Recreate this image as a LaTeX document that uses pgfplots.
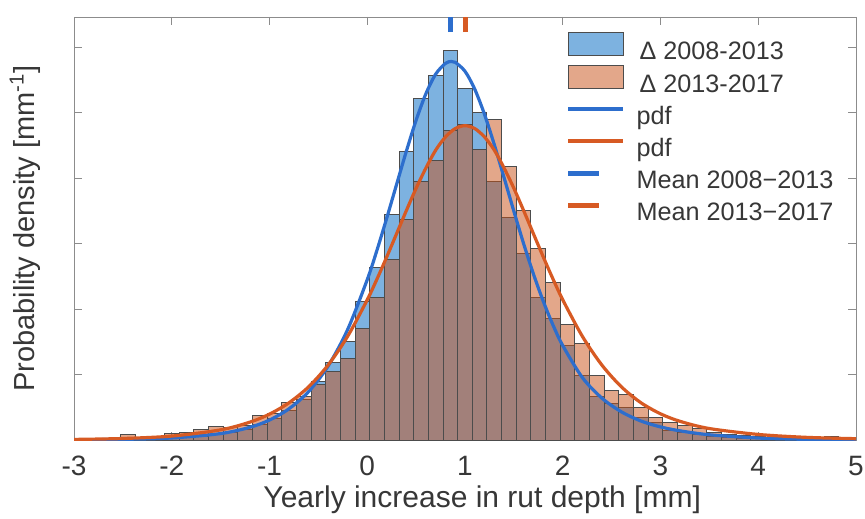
\documentclass[border=0pt]{standalone}
\usepackage{fontspec}
\setmainfont{Liberation Sans}
\usepackage{pgfplots}
\pgfplotsset{compat=1.18}
\definecolor{histblue}{RGB}{125,178,224}
\definecolor{historange}{RGB}{200,80,22}
\definecolor{pdfblue}{RGB}{45,110,205}
\definecolor{pdforange}{RGB}{215,90,35}
\definecolor{txt}{RGB}{55,55,55}
\begin{document}
\begin{tikzpicture}
\useasboundingbox (-37pt,-39pt) rectangle (395.5pt,220pt);
\begin{axis}[
  at={(0pt,0pt)}, anchor=south west,
  scale only axis, width=391pt, height=211.5pt,
  xmin=-3, xmax=5, ymin=0, ymax=0.646,
  xtick={-3,-2,...,5}, ytick={0,0.1,0.2,0.3,0.4,0.5,0.6}, yticklabels={},
  axis line style={black!45}, tick style={black!45, line width=0.5pt}, major tick length=4pt,
  tick align=inside,
  /pgf/number format/assume math mode=true,
  xticklabel style={font=\fontsize{14}{16}\selectfont, text=txt, anchor=base, yshift=-17.5pt},
  xlabel={Yearly increase in rut depth [mm]},
  ylabel={Probability density [mm\textsuperscript{-1}]},
  xlabel style={at={(axis description cs:0.522,-0.142)}, anchor=center, font=\fontsize{15}{18}\selectfont, text=txt},
  ylabel style={at={(axis description cs:-0.0627,0.5)}, anchor=center, font=\fontsize{14.5}{17}\selectfont, text=txt},
  legend style={at={(axis description cs:0.628,0.9645)}, anchor=north west, draw=none, fill=none, inner sep=0pt,
    font=\fontsize{12.6}{15}\selectfont, text=txt, row sep=0pt,
    nodes={inner sep=0pt, text height=9pt, text depth=2.5pt},
    /tikz/every odd column/.append style={column sep=6pt}},
  legend cell align=left,
]
\addplot[ybar interval, fill=histblue, draw=black!70, line width=0.5pt,
  legend image code/.code={\draw[fill=histblue, draw=black!70, line width=0.5pt] (0pt,-1.25pt) rectangle (27.5pt,10.25pt);}]
coordinates {(-2.975,0.000) (-2.825,0.000) (-2.675,0.001) (-2.525,0.001) (-2.375,0.001) (-2.225,0.002) (-2.075,0.003) (-1.925,0.004) (-1.775,0.006) (-1.625,0.008) (-1.475,0.012) (-1.325,0.016) (-1.175,0.024) (-1.025,0.033) (-0.875,0.045) (-0.725,0.062) (-0.575,0.089) (-0.425,0.119) (-0.275,0.150) (-0.125,0.211) (0.025,0.264) (0.175,0.345) (0.325,0.440) (0.475,0.522) (0.625,0.557) (0.775,0.595) (0.925,0.537) (1.075,0.500) (1.225,0.395) (1.375,0.340) (1.525,0.285) (1.675,0.217) (1.825,0.185) (1.975,0.145) (2.125,0.099) (2.275,0.066) (2.425,0.056) (2.575,0.049) (2.725,0.035) (2.875,0.026) (3.025,0.015) (3.175,0.012) (3.325,0.009) (3.475,0.006) (3.625,0.004) (3.775,0.003) (3.925,0.002) (4.075,0.001) (4.225,0.001) (4.375,0.000) (4.525,0.000) (4.675,0.000) (4.825,0.000) (4.975,0)};
\addlegendentry{\hspace{1.5pt}Δ 2008-2013}
\addplot[ybar interval, fill=historange, fill opacity=0.5, draw=black!70, line width=0.5pt,
  legend image code/.code={\draw[fill=historange, fill opacity=0.5, draw=black!70, line width=0.5pt] (0pt,-1.25pt) rectangle (27.5pt,10.25pt);}]
coordinates {(-2.975,0.002) (-2.825,0.002) (-2.675,0.003) (-2.525,0.008) (-2.375,0.004) (-2.225,0.006) (-2.075,0.010) (-1.925,0.012) (-1.775,0.016) (-1.625,0.021) (-1.475,0.019) (-1.325,0.022) (-1.175,0.038) (-1.025,0.040) (-0.875,0.058) (-0.725,0.066) (-0.575,0.084) (-0.425,0.104) (-0.275,0.125) (-0.125,0.171) (0.025,0.218) (0.175,0.275) (0.325,0.336) (0.475,0.394) (0.625,0.427) (0.775,0.473) (0.925,0.482) (1.075,0.443) (1.225,0.490) (1.375,0.418) (1.525,0.351) (1.675,0.293) (1.825,0.240) (1.975,0.176) (2.125,0.148) (2.275,0.099) (2.425,0.076) (2.575,0.069) (2.725,0.050) (2.875,0.035) (3.025,0.027) (3.175,0.022) (3.325,0.017) (3.475,0.012) (3.625,0.009) (3.775,0.007) (3.925,0.005) (4.075,0.003) (4.225,0.002) (4.375,0.002) (4.525,0.001) (4.675,0.006) (4.825,0.001) (4.975,0)};
\addlegendentry{\hspace{1.5pt}Δ 2013-2017}
\addplot[pdfblue, line width=1.6pt, smooth,
  legend image code/.code={\path[draw=none,fill=none] (0pt,-1.25pt) rectangle (27.5pt,10.25pt); \draw[pdfblue, line width=1.6pt] (0pt,4.5pt) -- (27.5pt,4.5pt);}]
coordinates {(-3,0.0003) (-2.5,0.0010) (-2,0.0031) (-1.5,0.0098) (-1.2,0.0194) (-1,0.0305) (-0.8,0.0477) (-0.6,0.0739) (-0.4,0.1130) (-0.2,0.1689) (0,0.2449) (0.1,0.2901) (0.2,0.3392) (0.3,0.3902) (0.4,0.4410) (0.5,0.4884) (0.6,0.5288) (0.7,0.5587) (0.8,0.5752) (0.86,0.578) (0.9,0.5768) (1.0,0.5631) (1.1,0.5357) (1.2,0.4971) (1.3,0.4509) (1.4,0.4005) (1.5,0.3493) (1.6,0.2997) (1.7,0.2536) (1.8,0.2121) (1.9,0.1756) (2.0,0.1442) (2.2,0.0955) (2.4,0.064) (2.6,0.043) (2.8,0.029) (3.0,0.020) (3.2,0.014) (3.5,0.008) (4.0,0.003) (4.5,0.001) (5.0,0.0004)};
\addlegendentry{pdf}
\addplot[pdforange, line width=1.6pt, smooth,
  legend image code/.code={\path[draw=none,fill=none] (0pt,-1.25pt) rectangle (27.5pt,10.25pt); \draw[pdforange, line width=1.6pt] (0pt,4.5pt) -- (27.5pt,4.5pt);}]
coordinates {(-3,0.0009) (-2.5,0.0023) (-2,0.0060) (-1.5,0.0155) (-1.2,0.0273) (-1,0.0395) (-0.8,0.0569) (-0.6,0.0812) (-0.4,0.1145) (-0.2,0.1585) (0,0.2141) (0.1,0.2459) (0.2,0.2798) (0.3,0.3150) (0.4,0.3503) (0.5,0.3844) (0.6,0.4153) (0.7,0.4426) (0.8,0.4627) (0.9,0.4756) (1.0,0.4800) (1.1,0.4756) (1.2,0.4627) (1.3,0.4426) (1.4,0.4153) (1.5,0.3844) (1.6,0.3503) (1.7,0.3150) (1.8,0.2798) (1.9,0.2459) (2.0,0.2141) (2.2,0.1585) (2.4,0.1145) (2.6,0.0812) (2.8,0.0569) (3.0,0.0400) (3.2,0.0285) (3.5,0.0175) (4.0,0.0085) (4.5,0.0040) (5.0,0.0020)};
\addlegendentry{pdf}
\addplot[pdfblue, line width=2.5pt,
  legend image code/.code={\path[draw=none,fill=none] (0pt,-1.25pt) rectangle (27.5pt,10.25pt); \draw[pdfblue, line width=2.5pt] (0pt,4pt) -- (15.5pt,4pt);}]
coordinates {(0.85,0.623) (0.85,0.646)};
\addlegendentry{Mean 2008−2013}
\addplot[pdforange, line width=2.5pt,
  legend image code/.code={\path[draw=none,fill=none] (0pt,-1.25pt) rectangle (27.5pt,10.25pt); \draw[pdforange, line width=2.5pt] (0pt,4pt) -- (15.5pt,4pt);}]
coordinates {(1.0,0.623) (1.0,0.646)};
\addlegendentry{Mean 2013−2017}
\end{axis}
\end{tikzpicture}
\end{document}
